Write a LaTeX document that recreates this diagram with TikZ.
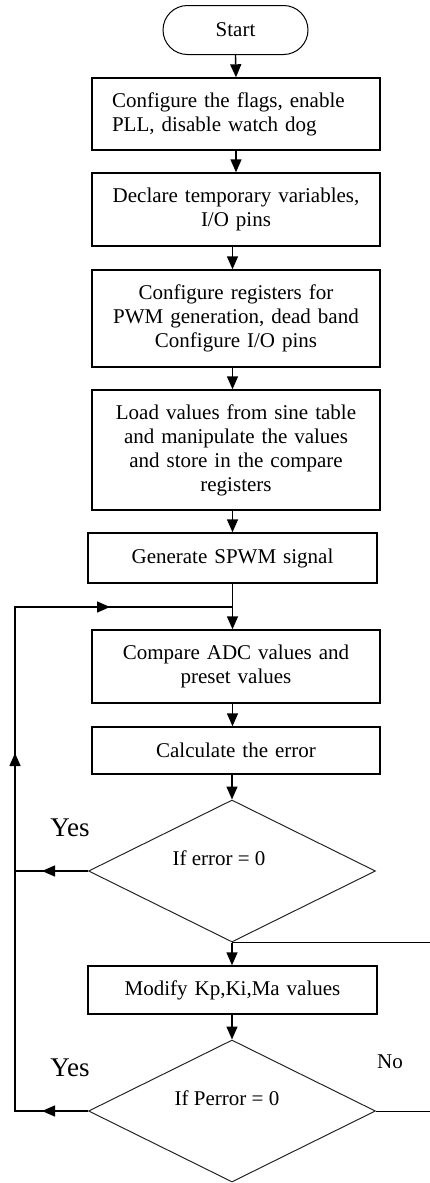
\documentclass[tikz,border=0pt]{standalone}
\usepackage{fontspec}
\setmainfont{Liberation Serif}
\usetikzlibrary{shapes.geometric,shapes.misc,arrows.meta}
\begin{document}
\begin{tikzpicture}[x=1pt,y=-1pt,
  txt/.style={font=\fontsize{21}{24}\selectfont},
  box/.style={txt, draw, line width=1.4pt, rectangle, minimum width=288pt,
    inner xsep=10pt, inner ysep=2pt, text width=268pt, align=center},
  dia/.style={draw=black!85, line width=1pt, diamond, minimum width=287pt,
    minimum height=142pt, inner sep=0pt},
  conn/.style={line width=1.4pt},
  arr/.style={conn, -{Triangle[length=13pt,width=11pt]}},
  lab/.style={font=\fontsize{27}{28}\selectfont, inner sep=0pt}
]
\useasboundingbox (0,0) rectangle (430,1183);

\node[txt, draw, line width=1pt, rounded rectangle, minimum width=145pt,
  minimum height=49pt, inner sep=0pt] (start) at (235.5,30) {Start};

\node[box, text width=248pt, inner xsep=20pt, align=left, minimum height=72pt]
  (b1) at (236,114) {Configure the flags, enable\\PLL, disable watch dog};
\node[box, minimum height=73pt] (b2) at (236,209.5)
  {Declare temporary variables,\\I/O pins};
\node[box, minimum height=97pt] (b3) at (236,318.5)
  {Configure registers for\\PWM generation, dead band\\Configure I/O pins};
\node[box, minimum height=120pt] (b4) at (236,450)
  {Load values from sine table\\and manipulate the values\\and store in the compare\\registers};
\node[box, minimum width=289pt, text width=269pt, minimum height=50pt] (b5) at (232.5,558)
  {Generate SPWM signal};
\node[box, minimum height=73pt] (b6) at (236,666.5)
  {Compare ADC values and\\preset values};
\node[box, minimum height=47pt] (b7) at (236,750.5)
  {Calculate the error};

\node[dia] (d1) at (232,871) {};
\node[txt, inner sep=0pt] (t1) at (219,858) {If error = 0};

\node[box, minimum width=289pt, text width=269pt, minimum height=48pt] (b8) at (232.5,990)
  {Modify Kp,Ki,Ma values};

\node[dia] (d2) at (232,1111) {};
\node[txt, inner sep=0pt] (t2) at (227,1098) {If Perror = 0};

\node[lab] (y1) at (70,828) {Yes};
\node[lab] (y2) at (70,1068) {Yes};
\node[font=\fontsize{21}{24}\selectfont, inner sep=0pt] (no) at (390,1062) {No};

\coordinate (L) at (15,607);
\coordinate (J) at (232.5,607);
\coordinate (R) at (430,944);
\coordinate (Lb) at (15,1111);
\coordinate (Up) at (15,753);
\coordinate (Rt) at (110,607);
\coordinate (A1) at (42,871);
\coordinate (A2) at (42,1111);

% main flow
\draw[arr] (start.south) -- (b1.north);
\draw[arr] (b1.south) -- (b2.north);
\draw[arr] (b2.south -| b5) -- (b3.north -| b5);
\draw[arr] (b3.south -| b5) -- (b4.north -| b5);
\draw[arr] (b4.south -| b5) -- (b5.north);
\draw[arr] (b5.south) -- (b6.north -| b5);
\draw[arr] (b6.south -| b5) -- (b7.north -| b5);
\draw[arr] (b7.south -| d1) -- (d1.north);
\draw[arr] (d1.south) -- (b8.north -| d1);
\draw[arr] (b8.south -| d2) -- (d2.north);

% loop back
\draw[conn] (d1.west) -- (d1.west -| L);
\draw[arr] (d1.west) -- (A1);
\draw[conn] (d2.west) -- (Lb) -- (L) -- (J);
\draw[arr] (d2.west) -- (A2);
\draw[arr] (Lb) -- (Up);
\draw[arr] (L) -- (Rt);

% lines to the right edge
\draw[conn, line width=1pt] (d1.south) -- (d1.south -| R);
\draw[conn, line width=1pt] (d2.east) -- (d2.east -| R);
\end{tikzpicture}
\end{document}
